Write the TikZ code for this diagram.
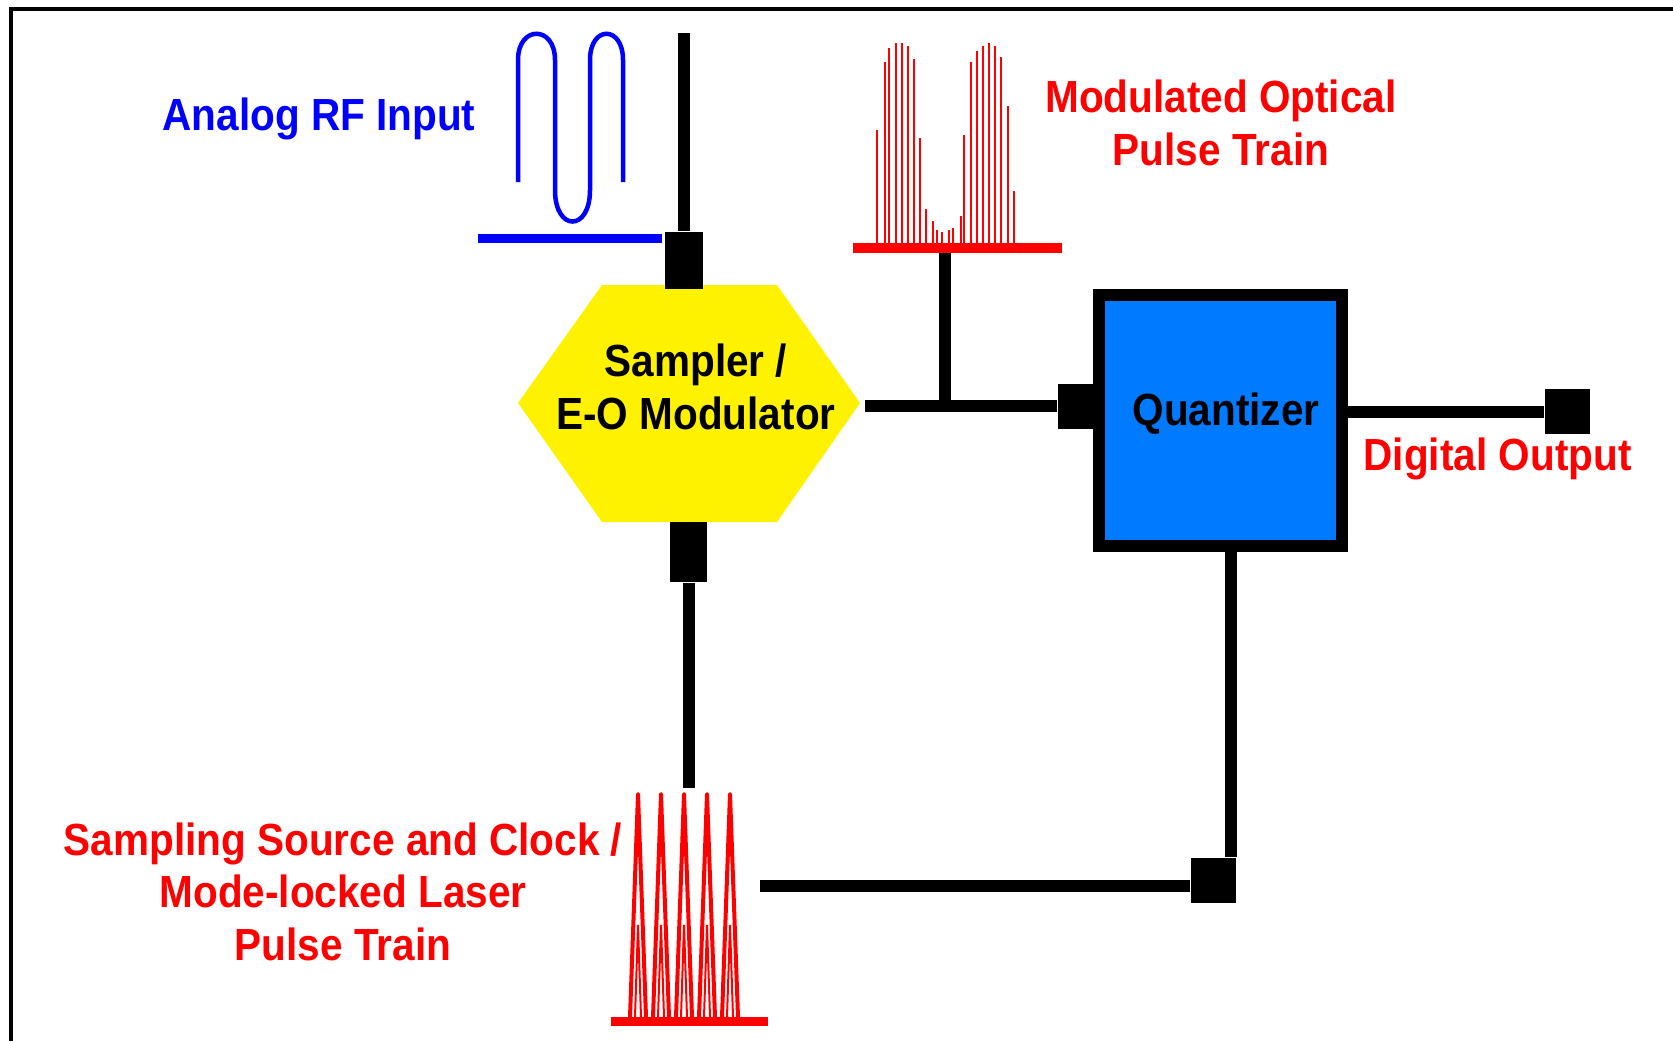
\documentclass[tikz,border=0pt]{standalone}
\usepackage{fontspec}
\newfontfamily\diagfont{Liberation Sans}[FakeStretch=0.9]
\definecolor{qblue}{RGB}{0,122,255}

\begin{document}
\begin{tikzpicture}[x=0.01cm, y=-0.01cm,
    wire/.style={line width=0.12cm},
    port/.style={fill=black, inner sep=0pt, minimum width=0.45cm, minimum height=0.45cm},
    lbl/.style={font=\diagfont\bfseries\fontsize{12.8}{14.8}\selectfont, inner sep=0pt},
    pulse/.style={red, line width=0.02cm}]

    \useasboundingbox (0,0) rectangle (1673,1041);

    % Frame
    \draw[line width=0.035cm] (11,1041) -- (11,9) -- (1673,9);

    % Sampler / E-O modulator
    \fill[yellow] (518,403) -- (602,285) -- (777,285) -- (860,403) -- (777,522) -- (602,522) -- cycle;
    \node[lbl, align=center, anchor=base] (sampler) at (696,429) {Sampler /\\E-O Modulator};

    % Quantizer
    \node[draw, line width=0.12cm, fill=qblue, minimum width=2.43cm, minimum height=2.51cm, inner sep=0pt] (quant) at (1220.5,420.5) {};
    \node[lbl, anchor=base] (qtext) at (1226,425) {Quantizer};

    % Ports
    \node[port, minimum width=0.38cm, minimum height=0.57cm] (pin)  at (684,260.5) {};
    \node[port, minimum width=0.37cm, minimum height=0.60cm] (pclk) at (688.5,552) {};
    \node[port, minimum width=0.35cm]                        (pq)   at (1075.5,406) {};
    \node[port]                                              (pout) at (1567.5,411.5) {};
    \node[port]                                              (pbot) at (1213.5,880.5) {};

    \coordinate (rftop)   at (684,33);     % top of the RF line
    \coordinate (clkend)  at (688.5,788);  % end of the clock line
    \coordinate (eoout)   at (865,406);    % modulator output
    \coordinate (tap)     at (945,406);    % tap to the optical train
    \coordinate (optbase) at (945,248);
    \coordinate (laser)   at (760,886);

    % Wires
    \draw[wire] (rftop) -- (pin.north);
    \draw[wire] (pclk.south) -- (clkend);
    \draw[wire] (eoout) -- (pq.west);
    \draw[wire] (tap) -- (optbase);
    \draw[wire] (quant.east |- pout) -- (pout.west);
    \draw[wire] ([xshift=-0.06cm]pbot.north east |- quant.south) -- ([xshift=-0.06cm]pbot.north east);
    \draw[wire] (laser) -- (laser -| pbot.west);

    % Analog RF input
    \draw[blue, line width=0.09cm] (478,238) -- (662,238);
    \draw[blue, line width=0.045cm] (518,182) -- (518,60) .. controls (518,25) and (555,25) .. (555,60)
        -- (555,190) .. controls (555,232) and (590,232) .. (590,190)
        -- (590,60) .. controls (590,25) and (623,25) .. (623,60) -- (623,182);

    % Modulated optical pulse train
    \draw[red, line width=0.1cm] (853,248) -- (1062,248);
    \foreach \x/\h in {877/130, 885/62, 889/48, 896/43, 902/43, 908/46, 914/59, 920/138,
                       926/209, 933/221, 937/230, 942/232, 949/230, 953/228, 961/216, 964/135,
                       971/62, 977/51, 983/46, 989/43, 995/46, 1001/57, 1008/106, 1014/191}
        \draw[pulse] (\x,243) -- (\x,\h);

    % Mode-locked laser pulse train
    \draw[red, line width=0.09cm] (611,1021) -- (768,1021);
    \foreach \x in {638,661,684,707,730} {
        \draw[red, line width=0.04cm, line join=round] (\x-8,1017) -- (\x,794) -- (\x+8,1017);
        \draw[red, line width=0.02cm] (\x-3,1017) -- (\x,925) -- (\x+3,1017);
    }

    % Labels
    \node[lbl, blue, anchor=base] (rflbl) at (319,130) {Analog RF Input};
    \node[lbl, red, align=center, anchor=base] (optlbl) at (1221,165) {Modulated Optical\\Pulse Train};
    \node[lbl, red, anchor=base west] (outlbl) at (1363,470) {Digital Output};
    \node[lbl, red, align=center, anchor=base] (clklbl) at (343,960) {Sampling Source and Clock /\\Mode-locked Laser\\Pulse Train};

\end{tikzpicture}
\end{document}
